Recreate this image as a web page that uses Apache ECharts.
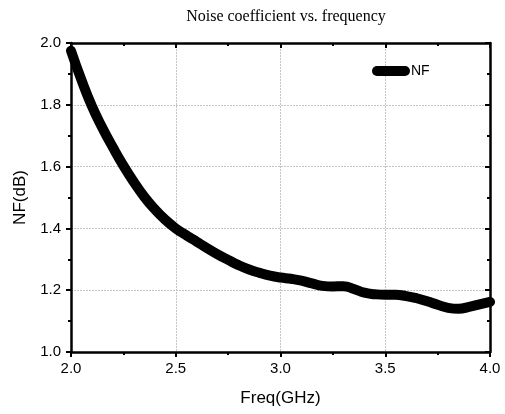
<!DOCTYPE html>
<html>
<head>
<meta charset="utf-8">
<script src="https://cdn.jsdelivr.net/npm/echarts@6/dist/echarts.min.js"></script>
<style>
html,body{margin:0;padding:0;background:#fff;}
#chart{width:505px;height:414px;}
</style>
</head>
<body>
<div id="chart"></div>
<script>
var freqGHz = [2.00,2.05,2.10,2.15,2.20,2.25,2.30,2.35,2.40,2.45,2.50,2.55,2.60,2.65,2.70,2.75,2.80,2.85,2.90,2.95,3.00,3.05,3.10,3.15,3.20,3.25,3.30,3.35,3.40,3.45,3.50,3.55,3.60,3.65,3.70,3.75,3.80,3.85,3.90,3.95,4.00];
var nfDB = [1.975,1.880,1.795,1.725,1.662,1.603,1.550,1.502,1.462,1.428,1.400,1.378,1.357,1.336,1.316,1.298,1.281,1.267,1.256,1.247,1.241,1.237,1.231,1.222,1.214,1.212,1.213,1.204,1.192,1.187,1.185,1.185,1.181,1.174,1.164,1.153,1.143,1.140,1.146,1.154,1.162];
var xTicks = ['2.0','2.5','3.0','3.5','4.0'];
var yTicks = ['1.0','1.2','1.4','1.6','1.8','2.0'];
var seriesName = 'NF';
var titleText = 'Noise coefficient vs. frequency';
var xName = 'Freq(GHz)';
var yName = 'NF(dB)';

var pts = freqGHz.map(function(f, i){ return [f, nfDB[i]]; });
var font = 'Liberation Sans, Arial, sans-serif';
var axisLineStyle = {color:'#000', width:2.5};
var gridLine = {show:true, lineStyle:{color:'#c4c4c4', width:1, type:[2,1]}};

var chart = echarts.init(document.getElementById('chart'));
chart.setOption({
  animation:false,
  backgroundColor:'#fff',
  title:{text:titleText, left:281, textAlign:'center', top:4,
    textStyle:{fontFamily:'Liberation Serif, Times New Roman, serif', fontWeight:'normal', fontSize:16, color:'#000'}},
  legend:{data:[{name:seriesName, icon:'path://M5,0 L33,0 A5,5 0 0 1 33,10 L5,10 A5,5 0 0 1 5,0 Z'}],
    left:367, top:59, itemWidth:38, itemHeight:10, itemGap:0,
    textStyle:{fontFamily:font, fontSize:14, color:'#000', padding:[0,0,0,-4]}},
  grid:{left:71, right:15, top:43, bottom:62},
  xAxis:[{
    type:'value', min:2, max:4, interval:0.5,
    name:xName, nameLocation:'middle', nameGap:38,
    nameTextStyle:{fontFamily:font, fontSize:17, color:'#000'},
    axisLine:{show:true, lineStyle:axisLineStyle},
    axisTick:{show:true, inside:false, length:5, lineStyle:{width:2,color:'#000'}},
    minorTick:{show:true, splitNumber:2, length:3, lineStyle:{width:2,color:'#000'}},
    axisLabel:{margin:9, fontFamily:font, fontSize:15, color:'#000',
      formatter:function(v){ var i = Math.round((v-2)/0.5); return xTicks[i]; }},
    splitLine:gridLine
  },{
    type:'value', min:2, max:4, interval:0.5, position:'top',
    axisLine:{show:true, lineStyle:axisLineStyle},
    axisTick:{show:true, inside:true, length:5, lineStyle:{width:2,color:'#000'}},
    minorTick:{show:true, splitNumber:2, length:3, lineStyle:{width:2,color:'#000'}},
    axisLabel:{show:false}, splitLine:{show:false}
  }],
  yAxis:[{
    type:'value', min:1, max:2, interval:0.2,
    name:yName, nameLocation:'middle', nameGap:41,
    nameTextStyle:{fontFamily:font, fontSize:17, color:'#000'},
    axisLine:{show:true, lineStyle:axisLineStyle},
    axisTick:{show:true, inside:false, length:5, lineStyle:{width:2,color:'#000'}},
    minorTick:{show:true, splitNumber:2, length:3, lineStyle:{width:2,color:'#000'}},
    axisLabel:{margin:10, fontFamily:font, fontSize:15, color:'#000',
      formatter:function(v){ var i = Math.round((v-1)/0.2); return yTicks[i]; }},
    splitLine:gridLine
  },{
    type:'value', min:1, max:2, interval:0.2, position:'right',
    axisLine:{show:true, lineStyle:axisLineStyle},
    axisTick:{show:true, inside:true, length:5, lineStyle:{width:2,color:'#000'}},
    minorTick:{show:true, splitNumber:2, length:3, lineStyle:{width:2,color:'#000'}},
    axisLabel:{show:false}, splitLine:{show:false}
  }],
  series:[{
    name:seriesName, type:'line', data:pts, smooth:0.5, symbol:'none',
    lineStyle:{color:'#000', width:10, cap:'round', join:'round'},
    itemStyle:{color:'#000'}, z:3
  }]
});
</script>
</body>
</html>
